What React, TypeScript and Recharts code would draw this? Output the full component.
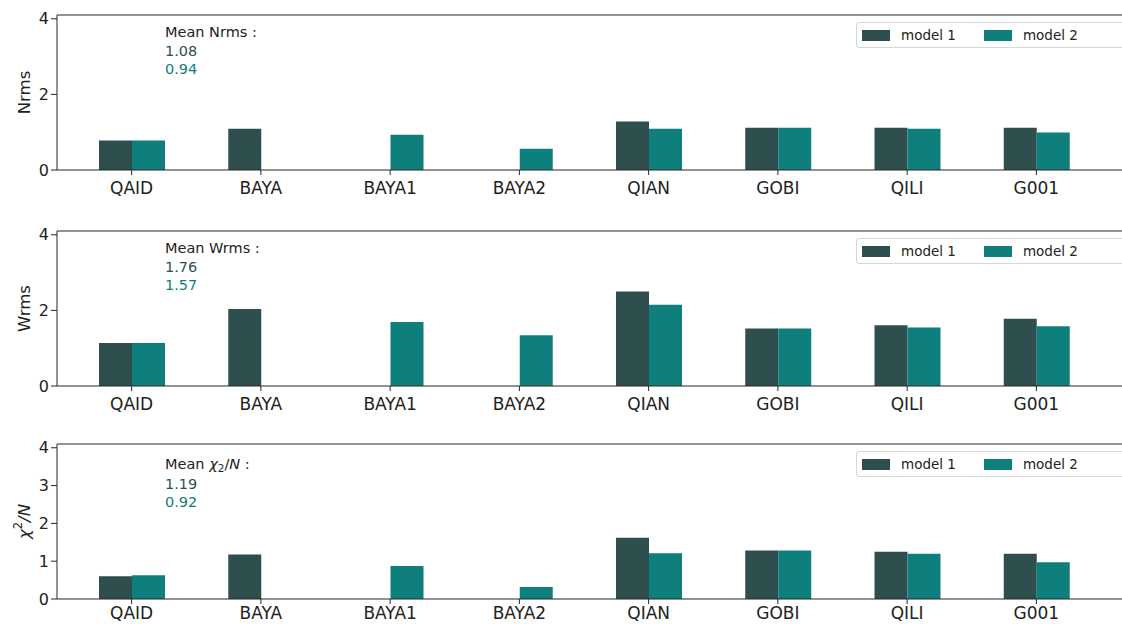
import { BarChart, Bar, XAxis, YAxis, ReferenceLine, Legend } from 'recharts';

const stations = ['QAID', 'BAYA', 'BAYA1', 'BAYA2', 'QIAN', 'GOBI', 'QILI', 'G001'];

const nrms1 = [0.78, 1.09, null, null, 1.28, 1.12, 1.12, 1.12];
const nrms2 = [0.78, null, 0.93, 0.56, 1.09, 1.12, 1.09, 0.99];
const wrms1 = [1.14, 2.04, null, null, 2.5, 1.52, 1.61, 1.78];
const wrms2 = [1.14, null, 1.69, 1.34, 2.15, 1.52, 1.55, 1.58];
const chi1 = [0.6, 1.18, null, null, 1.62, 1.28, 1.25, 1.2];
const chi2 = [0.63, null, 0.87, 0.32, 1.21, 1.28, 1.2, 0.97];

const means = {
  nrms: ['1.08', '0.94'],
  wrms: ['1.76', '1.57'],
  chi: ['1.19', '0.92'],
};

const ticksWide = [0, 2, 4];
const ticksChi = [0, 1, 2, 3, 4];

const DARK = '#2F4F4F';
const TEAL = '#0E7F7D';
const AXIS = '#262626';
const FONT = '"DejaVu Sans", sans-serif';

const toRows = (a: (number | null)[], b: (number | null)[]) =>
  stations.map((s, i) => ({ station: s, m1: a[i], m2: b[i] }));

function LegendBox({ payload }: any) {
  return (
    <div
      style={{
        display: 'flex',
        alignItems: 'center',
        height: 26,
        boxSizing: 'border-box',
        border: '1px solid #d8d8d8',
        borderRadius: 3,
        background: '#fff',
        paddingLeft: 5,
        fontFamily: FONT,
        fontSize: 13.5,
        color: '#222',
      }}
    >
      {(payload || []).map((p: any, i: number) => (
        <div key={p.value} style={{ display: 'flex', alignItems: 'center', marginLeft: i === 0 ? 0 : 28 }}>
          <span style={{ display: 'inline-block', width: 28, height: 11, background: p.color, marginRight: 11 }} />
          <span>{p.value}</span>
        </div>
      ))}
    </div>
  );
}

function yLabel(kind: 'nrms' | 'wrms' | 'chi') {
  return (props: any) => {
    const vb = props.viewBox || { x: 0, y: 15, height: 155 };
    const cx = vb.x + 24;
    const cy = vb.y + vb.height / 2;
    return (
      <text
        x={cx}
        y={cy}
        transform={`rotate(-90 ${cx} ${cy})`}
        textAnchor="middle"
        dominantBaseline="central"
        fontFamily={FONT}
        fontSize={16.5}
        fill="#222"
      >
        {kind === 'nrms' && 'Nrms'}
        {kind === 'wrms' && 'Wrms'}
        {kind === 'chi' && (
          <>
            <tspan fontStyle="italic">χ</tspan>
            <tspan dy={-6} fontSize={11.5}>2</tspan>
            <tspan dy={6} fontStyle="italic">/N</tspan>
          </>
        )}
      </text>
    );
  };
}

function MeanNote({ kind, top }: { kind: 'nrms' | 'wrms' | 'chi'; top: number }) {
  const [v1, v2] = means[kind];
  return (
    <div
      style={{
        position: 'absolute',
        left: 165,
        top,
        fontFamily: FONT,
        fontSize: 14.5,
        lineHeight: '18.7px',
        whiteSpace: 'nowrap',
        pointerEvents: 'none',
      }}
    >
      <div style={{ color: '#222' }}>
        {kind === 'nrms' && 'Mean Nrms :'}
        {kind === 'wrms' && 'Mean Wrms :'}
        {kind === 'chi' && (
          <>
            Mean <i>χ</i>
            <span style={{ fontSize: '0.72em', position: 'relative', top: '0.25em' }}>2</span>/<i>N</i> :
          </>
        )}
      </div>
      <div style={{ color: DARK }}>{v1}</div>
      <div style={{ color: TEAL }}>{v2}</div>
    </div>
  );
}

function Panel({
  kind,
  a,
  b,
  ticks,
  top,
  noteTop,
  labelGap,
}: {
  kind: 'nrms' | 'wrms' | 'chi';
  a: (number | null)[];
  b: (number | null)[];
  ticks: number[];
  top: number;
  noteTop: number;
  labelGap: number;
}) {
  return (
    <div style={{ position: 'absolute', left: 0, top, width: 1122, height: 200 }}>
      <BarChart
        width={1122}
        height={200}
        data={toRows(a, b)}
        margin={{ top: 15, right: 0, left: 0, bottom: 0 }}
        barGap={0}
        barSize={33}
      >
        <XAxis
          dataKey="station"
          height={30}
          padding={{ left: 10, right: 21 }}
          interval={0}
          stroke={AXIS}
          tickSize={5}
          tickMargin={labelGap}
          tick={{ fontSize: 17, fill: '#222', fontFamily: FONT }}
        />
        <YAxis
          width={57}
          domain={[0, 4.1]}
          ticks={ticks}
          allowDataOverflow
          stroke={AXIS}
          tickSize={6}
          tickMargin={2}
          tick={{ fontSize: 16, fill: '#222', fontFamily: FONT }}
          label={yLabel(kind)}
        />
        <ReferenceLine y={4.1} stroke={AXIS} strokeWidth={1} />
        <Legend
          layout="horizontal"
          verticalAlign="middle"
          align="center"
          content={<LegendBox />}
          wrapperStyle={{ top: 22, left: 856, width: 300, height: 26 }}
        />
        <Bar dataKey="m1" name="model 1" fill={DARK} isAnimationActive={false} />
        <Bar dataKey="m2" name="model 2" fill={TEAL} isAnimationActive={false} />
      </BarChart>
      <MeanNote kind={kind} top={noteTop} />
    </div>
  );
}

export default function App() {
  return (
    <div
      style={{
        position: 'absolute',
        left: 0,
        top: 0,
        width: 1122,
        height: 624,
        overflow: 'hidden',
        background: '#fff',
      }}
    >
      <Panel kind="nrms" a={nrms1} b={nrms2} ticks={ticksWide} top={0} noteTop={23} labelGap={7} />
      <Panel kind="wrms" a={wrms1} b={wrms2} ticks={ticksWide} top={216} noteTop={23} labelGap={7} />
      <Panel kind="chi" a={chi1} b={chi2} ticks={ticksChi} top={429} noteTop={26} labelGap={3} />
    </div>
  );
}
